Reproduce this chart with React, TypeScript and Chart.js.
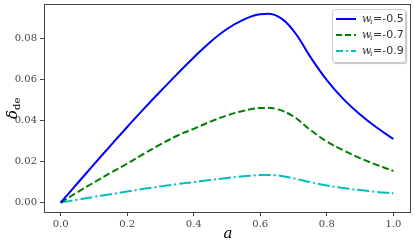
import React, { useEffect, useRef } from "react";
import { Chart, registerables } from "chart.js";

Chart.register(...registerables);

const aValues = [0, 0.05, 0.1, 0.15, 0.2, 0.25, 0.3, 0.35, 0.4, 0.45, 0.5, 0.55, 0.6, 0.65, 0.7, 0.75, 0.8, 0.85, 0.9, 0.95, 1.0];
const deltaW05 = [0, 0.0093, 0.0186, 0.0278, 0.0369, 0.0457, 0.0543, 0.0627, 0.0708, 0.0784, 0.0847, 0.0893, 0.0919, 0.0911, 0.0838, 0.0712, 0.0598, 0.0505, 0.043, 0.0366, 0.031];
const deltaW07 = [0, 0.005, 0.0098, 0.0145, 0.019, 0.0238, 0.0284, 0.0326, 0.036, 0.0395, 0.0425, 0.0448, 0.0461, 0.0456, 0.042, 0.0355, 0.0298, 0.0255, 0.0217, 0.0184, 0.0154];
const deltaW09 = [0, 0.0014, 0.0028, 0.0041, 0.0054, 0.0067, 0.0079, 0.009, 0.01, 0.011, 0.012, 0.0128, 0.0134, 0.0133, 0.0118, 0.01, 0.0083, 0.0071, 0.0061, 0.0052, 0.0045];
const seriesLabels = ["-0.5", "-0.7", "-0.9"];
const xTicks = [0, 0.2, 0.4, 0.6, 0.8, 1.0];
const yTicks = [0, 0.02, 0.04, 0.06, 0.08];

const colors = ["#0000ff", "#008000", "#00bfbf"];
const dashes: number[][] = [[], [7, 3], [12, 3, 2, 3]];

const framePlugin = {
  id: "frameAndText",
  afterDraw(chart: any) {
    const { ctx, chartArea } = chart;
    const { left, right, top, bottom } = chartArea;
    ctx.save();
    ctx.strokeStyle = "#444";
    ctx.lineWidth = 1;
    ctx.setLineDash([]);
    ctx.strokeRect(Math.round(left) + 0.5, Math.round(top) + 0.5, Math.round(right - left), Math.round(bottom - top));

    ctx.fillStyle = "#000";
    ctx.font = "italic 15px 'DejaVu Serif'";
    ctx.textAlign = "center";
    ctx.textBaseline = "middle";
    ctx.fillText("a", (left + right) / 2 + 1, 234);

    ctx.save();
    ctx.translate(12, 107);
    ctx.rotate(-Math.PI / 2);
    ctx.font = "italic 15px 'DejaVu Serif'";
    ctx.textAlign = "left";
    ctx.textBaseline = "alphabetic";
    ctx.fillText("δ", -12, 5);
    ctx.font = "10px 'DejaVu Serif'";
    ctx.fillText("de", -3, 8);
    ctx.restore();

    const bx = 332, by = 9, bw = 74, bh = 54;
    ctx.shadowColor = "rgba(0,0,0,0.25)";
    ctx.shadowOffsetX = 1;
    ctx.shadowOffsetY = 1;
    ctx.shadowBlur = 1;
    ctx.fillStyle = "#fff";
    ctx.beginPath();
    ctx.roundRect(bx, by, bw, bh, 3);
    ctx.fill();
    ctx.shadowColor = "transparent";
    ctx.strokeStyle = "#ccc";
    ctx.lineWidth = 1;
    ctx.beginPath();
    ctx.roundRect(bx + 0.5, by + 0.5, bw - 1, bh - 1, 3);
    ctx.stroke();
    const rows = [19, 35, 51];
    for (let i = 0; i < 3; i++) {
      const y = rows[i];
      ctx.strokeStyle = colors[i];
      ctx.lineWidth = 2;
      ctx.setLineDash(i === 0 ? [] : i === 1 ? [6, 3] : [7, 3, 2, 3]);
      ctx.beginPath();
      ctx.moveTo(336, y);
      ctx.lineTo(356, y);
      ctx.stroke();
      ctx.setLineDash([]);
      ctx.fillStyle = "#333";
      ctx.textAlign = "left";
      ctx.textBaseline = "middle";
      ctx.font = "italic 11px 'DejaVu Serif'";
      ctx.fillText("w", 362, y);
      ctx.font = "7px 'DejaVu Serif'";
      ctx.fillText("i", 370, y + 3);
      ctx.font = "11px 'DejaVu Sans'";
      ctx.fillText("=" + seriesLabels[i], 373, y);
    }
    ctx.restore();
  },
};

export default function App() {
  const ref = useRef<HTMLCanvasElement | null>(null);
  useEffect(() => {
    document.body.style.margin = "0";
    const mk = (vals: number[]) => aValues.map((a, i) => ({ x: a, y: vals[i] }));
    const chart = new Chart(ref.current!, {
      type: "line",
      data: {
        datasets: [deltaW05, deltaW07, deltaW09].map((vals, i) => ({
          label: "w=" + seriesLabels[i],
          data: mk(vals),
          borderColor: colors[i],
          borderWidth: 2,
          borderDash: dashes[i],
          pointRadius: 0,
          fill: false,
          tension: 0.4,
        })),
      },
      options: {
        animation: false,
        responsive: false,
        maintainAspectRatio: false,
        layout: { padding: { top: 4, right: 5, left: 0, bottom: 0 } },
        plugins: { legend: { display: false }, tooltip: { enabled: false } },
        scales: {
          x: {
            type: "linear",
            min: -0.05,
            max: 1.05,
            afterBuildTicks: (s: any) => { s.ticks = xTicks.map((v) => ({ value: v })); },
            afterFit: (s: any) => { s.height = 36; s.paddingLeft = 0; s.paddingRight = 0; },
            grid: { drawOnChartArea: false, drawTicks: true, tickLength: 4, color: "#444" },
            border: { display: true, color: "#444" },
            ticks: {
              callback: (v: any) => Number(v).toFixed(1),
              font: { family: "'DejaVu Serif'", size: 10 },
              color: "#444",
              padding: 2,
              maxRotation: 0,
            },
          },
          y: {
            type: "linear",
            min: -0.0046,
            max: 0.0969,
            afterBuildTicks: (s: any) => { s.ticks = yTicks.map((v) => ({ value: v })); },
            afterFit: (s: any) => { s.width = 44; s.paddingTop = 0; s.paddingBottom = 0; },
            grid: { drawOnChartArea: false, drawTicks: true, tickLength: 4, color: "#444" },
            border: { display: true, color: "#444" },
            ticks: {
              callback: (v: any) => Number(v).toFixed(2),
              font: { family: "'DejaVu Serif'", size: 10 },
              color: "#444",
              padding: 3,
            },
          },
        },
      },
      plugins: [framePlugin],
    });
    return () => chart.destroy();
  }, []);
  return <canvas ref={ref} width={415} height={248} style={{ display: "block" }} />;
}
